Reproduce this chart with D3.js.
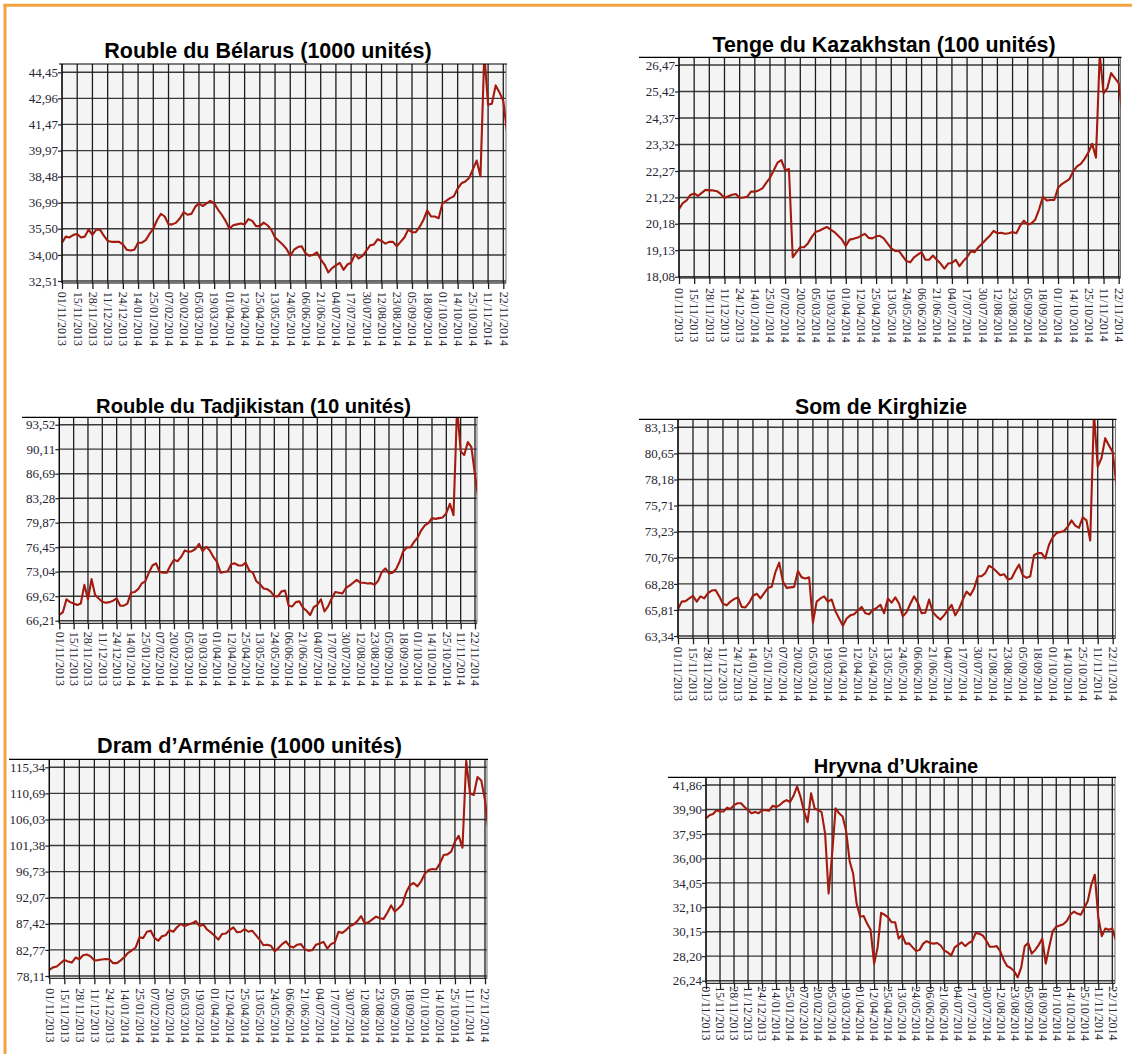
<!DOCTYPE html>
<html><head><meta charset="utf-8">
<script src="https://cdn.jsdelivr.net/npm/d3@7"></script>
<style>
body{margin:0;background:#fff}
svg{display:block}
</style>
</head><body>
<svg id="chart" width="1132" height="1054"></svg>
<script>
// ---------- DATA ----------
const dateLabels = ["01/11/2013","15/11/2013","28/11/2013","11/12/2013","24/12/2013","14/01/2014","25/01/2014","07/02/2014","20/02/2014","05/03/2014","19/03/2014","01/04/2014","12/04/2014","25/04/2014","13/05/2014","24/05/2014","06/06/2014","21/06/2014","04/07/2014","17/07/2014","30/07/2014","12/08/2014","23/08/2014","05/09/2014","18/09/2014","01/10/2014","14/10/2014","25/10/2014","11/11/2014","22/11/2014"];
const pointsPerLabel = 4;

const belarusTicks = ["32,51","34,00","35,50","36,99","38,48","39,97","41,47","42,96","44,45"];
const belarusValues = [34.7,35.05,35.0,35.15,35.2,35.0,35.05,35.45,35.15,35.45,
35.45,35.1,34.8,34.75,34.75,34.75,34.6,34.3,34.25,34.3,
34.7,34.7,34.85,35.2,35.5,36.0,36.35,36.2,35.75,35.75,
35.85,36.1,36.45,36.3,36.35,36.75,36.95,36.8,36.95,37.1,
36.95,36.6,36.3,35.95,35.5,35.7,35.75,35.8,35.75,36.05,
35.95,35.65,35.65,35.85,35.7,35.45,35.0,34.8,34.6,34.35,
33.95,34.3,34.45,34.5,34.1,33.95,34.0,34.15,33.75,33.45,
33.0,33.25,33.4,33.55,33.15,33.45,33.55,34.05,33.8,33.95,
34.25,34.55,34.6,34.9,34.8,34.65,34.75,34.75,34.5,34.75,
35.0,35.45,35.3,35.3,35.6,36.0,36.55,36.2,36.2,36.1,
36.95,37.1,37.25,37.35,37.8,38.1,38.2,38.4,38.9,39.4,
38.5,45.5,42.6,42.65,43.7,43.3,42.8,41.0];

const kazakhTicks = ["18,08","19,13","20,18","21,22","22,27","23,32","24,37","25,42","26,47"];
const kazakhValues = [20.76,21.0,21.1,21.32,21.38,21.28,21.4,21.52,21.5,21.5,
21.47,21.36,21.2,21.27,21.33,21.36,21.2,21.22,21.25,21.45,
21.45,21.5,21.58,21.8,22.0,22.3,22.6,22.7,22.3,22.35,
18.85,19.05,19.25,19.25,19.4,19.65,19.85,19.9,19.98,20.05,
19.95,19.85,19.7,19.55,19.3,19.55,19.58,19.62,19.7,19.78,
19.62,19.6,19.68,19.7,19.6,19.4,19.2,19.1,19.1,18.9,
18.7,18.65,18.85,18.95,19.05,18.75,18.75,18.92,18.75,18.6,
18.4,18.6,18.62,18.75,18.5,18.7,18.85,19.1,19.05,19.25,
19.4,19.55,19.7,19.9,19.8,19.82,19.78,19.8,19.85,19.8,
20.1,20.3,20.15,20.2,20.35,20.75,21.25,21.1,21.12,21.12,
21.6,21.75,21.85,21.95,22.25,22.45,22.55,22.75,23.0,23.35,
22.8,26.9,25.35,25.55,26.15,25.95,25.75,24.5];

const tadjikTicks = ["66,21","69,62","73,04","76,45","79,87","83,28","86,69","90,11","93,52"];
const tadjikValues = [67.0,67.4,69.2,68.8,68.6,68.4,68.6,71.2,69.2,72.0,
69.8,69.3,68.85,68.7,68.8,69.0,69.3,68.3,68.3,68.6,
70.1,70.2,70.6,71.4,71.7,72.9,73.9,74.2,73.0,72.9,
72.9,73.9,74.7,74.5,75.1,76.0,75.8,75.9,76.2,76.9,
75.9,76.5,76.0,75.1,74.4,72.9,73.0,73.1,74.1,74.2,
73.9,73.9,74.3,73.2,72.9,71.7,71.3,70.7,70.6,70.25,
69.6,69.6,70.3,70.4,68.3,68.2,68.8,68.9,68.0,67.6,
67.0,68.1,68.4,69.2,67.5,68.2,69.3,70.2,70.1,70.0,
70.8,71.1,71.5,71.9,71.5,71.5,71.4,71.45,71.2,71.8,
73.0,73.5,72.8,72.9,73.4,74.5,75.9,76.4,76.4,77.2,
77.8,78.8,79.5,79.8,80.5,80.4,80.5,80.6,81.2,82.5,
80.9,96.0,89.8,89.3,91.1,90.4,86.5,83.0];

const kirghizTicks = ["63,34","65,81","68,28","70,76","73,23","75,71","78,18","80,65","83,13"];
const kirghizValues = [65.9,66.6,66.65,66.9,67.15,66.6,67.1,66.9,67.4,67.65,
67.7,67.1,66.4,66.25,66.6,66.85,67.0,66.1,66.05,66.5,
67.15,67.35,66.9,67.4,67.9,68.0,69.4,70.3,68.5,67.9,
67.95,68.0,69.5,68.9,68.8,68.9,64.6,66.6,66.9,67.1,
66.6,66.8,65.7,65.0,64.3,65.0,65.3,65.4,65.75,66.1,
65.5,65.4,65.8,66.0,66.3,65.5,66.9,66.5,67.0,66.4,
65.2,65.6,66.4,67.1,66.5,65.5,65.55,66.8,65.6,65.2,
64.9,65.3,65.8,66.3,65.3,65.9,66.8,67.55,67.2,67.85,
69.0,69.0,69.3,70.0,69.8,69.45,69.1,69.2,68.7,68.8,
69.5,70.1,69.1,68.85,69.0,71.0,71.2,71.2,70.7,72.0,
72.7,73.1,73.2,73.3,73.7,74.3,73.8,73.6,74.6,74.3,
72.4,84.5,79.4,80.2,82.1,81.4,80.8,77.6];

const armeniaTicks = ["78,11","82,77","87,42","92,07","96,73","101,38","106,03","110,69","115,34"];
const armeniaValues = [79.2,79.65,79.8,80.4,80.95,80.7,80.5,81.4,81.1,81.8,
81.95,81.6,80.9,80.95,81.05,81.15,81.1,80.4,80.4,80.9,
81.5,82.25,82.7,83.2,85.0,84.9,86.0,86.2,84.9,84.4,
85.2,85.4,86.3,86.0,86.8,87.4,87.0,87.3,87.5,87.9,
87.0,87.3,86.4,85.9,85.3,84.6,85.6,85.7,86.3,86.8,
85.9,86.0,86.5,86.0,86.2,85.4,84.6,83.6,83.7,83.5,
82.5,83.1,83.8,84.3,83.4,83.2,83.7,83.8,82.9,82.6,
82.7,83.7,83.9,84.2,83.0,83.8,84.1,86.0,85.8,86.3,
87.0,87.3,87.9,88.8,87.5,87.7,88.2,88.7,88.4,88.3,
89.4,90.7,89.6,90.2,90.9,93.0,94.3,94.7,94.1,95.0,
96.4,97.0,97.2,97.1,98.2,99.7,99.8,100.3,102.1,103.1,
101.0,116.5,110.7,110.4,113.6,113.0,109.5,103.5];

const ukraineTicks = ["26,24","28,20","30,15","32,10","34,05","36,00","37,95","39,90","41,86"];
const ukraineValues = [39.2,39.45,39.55,39.85,39.75,39.75,40.05,39.95,40.25,40.4,
40.4,40.1,39.85,39.6,39.7,39.6,39.85,39.85,39.8,40.2,
40.1,40.25,40.5,40.65,40.5,41.0,41.75,40.9,39.75,38.9,
41.2,40.0,39.85,39.7,38.0,33.2,36.3,40.0,39.6,39.35,
38.2,35.8,34.8,32.4,31.35,31.4,30.8,30.3,27.6,28.9,
31.65,31.5,31.3,30.9,30.9,29.6,29.9,29.2,29.22,28.9,
28.6,28.7,29.2,29.4,29.25,29.2,29.25,29.05,28.65,28.5,
28.25,28.9,29.1,29.3,29.0,29.25,29.4,30.05,30.0,29.85,
29.45,28.95,28.95,29.0,28.6,27.9,27.4,27.25,27.0,26.5,
27.3,29.0,29.25,28.4,28.7,29.1,29.6,27.6,28.95,30.2,
30.55,30.65,30.75,31.0,31.5,31.75,31.6,31.5,32.05,32.6,
33.9,34.7,31.3,29.8,30.4,30.3,30.4,29.5];

// ---------- LAYOUT ----------
const panels = [
  {title:"Rouble du Bélarus (1000 unités)", ticks:belarusTicks, values:belarusValues,
   L:62, G:503.3, R:506, T:64, B:283, yTop:72.3, yBot:281, topX0:59, tx:268, ty:58, ts:21.5, lab:8.7},
  {title:"Tenge du Kazakhstan (100 unités)", ticks:kazakhTicks, values:kazakhValues,
   L:679, G:1118.7, R:1120.5, T:57.3, B:278, yTop:65, yBot:276.7, topX0:639, tx:884, ty:52, ts:21.4, lab:10},
  {title:"Rouble du Tadjikistan (10 unités)", ticks:tadjikTicks, values:tadjikValues,
   L:59.3, G:475, R:477, T:417.3, B:623.3, yTop:424.7, yBot:620.7, topX0:22, tx:253.5, ty:413, ts:20.2, lab:8.4},
  {title:"Som de Kirghizie", ticks:kirghizTicks, values:kirghizValues,
   L:678, G:1112.7, R:1115.5, T:419.3, B:638.3, yTop:427.3, yBot:636, topX0:639, tx:881, ty:414, ts:21.2, lab:8.4},
  {title:"Dram d\u2019Arménie (1000 unités)", ticks:armeniaTicks, values:armeniaValues,
   L:49.3, G:485, R:487, T:759.3, B:978.3, yTop:767.3, yBot:976, topX0:9, tx:249.5, ty:753, ts:21.6, lab:10},
  {title:"Hryvna d\u2019Ukraine", ticks:ukraineTicks, values:ukraineValues,
   L:706, G:1112.3, R:1115, T:777.3, B:983.3, yTop:785, yBot:980.7, topX0:668, tx:896, ty:772.7, ts:20, lab:3}
];

const svg = d3.select("#chart");

// orange frame
svg.append("line").attr("x1",3.5).attr("x2",1132).attr("y1",5.3).attr("y2",5.3)
  .attr("stroke","#f4a240").attr("stroke-width",3);
svg.append("line").attr("x1",5).attr("x2",5).attr("y1",4).attr("y2",1054)
  .attr("stroke","#f4a240").attr("stroke-width",3);

const num = s => +s.replace(",", ".");

panels.forEach((p, pi) => {
  const g = svg.append("g");
  const tickVals = p.ticks.map(num);
  const y = d3.scaleLinear().domain([tickVals[0], tickVals[tickVals.length-1]]).range([p.yBot, p.yTop]);
  const x = d3.scaleLinear().domain([0, dateLabels.length-1]).range([p.L, p.G]);

  // background
  g.append("rect").attr("x",p.L).attr("y",p.T).attr("width",p.R-p.L).attr("height",p.B-p.T)
    .attr("fill","#f4f4f4");

  // horizontal grid
  g.append("g").selectAll("line").data(tickVals).join("line")
    .attr("x1",p.L).attr("x2",p.R).attr("y1",d=>y(d)).attr("y2",d=>y(d))
    .attr("stroke","#3a3a3a").attr("stroke-width",1.4);

  // vertical grid
  g.append("g").selectAll("line").data(d3.range(dateLabels.length)).join("line")
    .attr("x1",d=>x(d)).attr("x2",d=>x(d)).attr("y1",p.T).attr("y2",p.B)
    .attr("stroke","#1e1e1e").attr("stroke-width",1.3);

  // right border
  g.append("line").attr("x1",p.R).attr("x2",p.R).attr("y1",p.T).attr("y2",p.B)
    .attr("stroke","#777").attr("stroke-width",1);

  // line
  const cid = "clip"+pi;
  svg.append("defs").append("clipPath").attr("id",cid).append("rect")
    .attr("x",p.L).attr("y",p.T).attr("width",p.R-p.L).attr("height",p.B-p.T);
  const line = d3.line().x((d,i)=>x(i/pointsPerLabel)).y(d=>y(d));
  g.append("path").datum(p.values).attr("d",line).attr("clip-path","url(#"+cid+")")
    .attr("fill","none").attr("stroke","#a31a0e").attr("stroke-width",2.1)
    .attr("stroke-linejoin","round");

  // top border
  g.append("line").attr("x1",p.topX0).attr("x2",p.R+1).attr("y1",p.T).attr("y2",p.T)
    .attr("stroke","#000").attr("stroke-width",1.2);

  // y axis
  const ya = d3.axisLeft(y).tickValues(tickVals).tickFormat((d,i)=>p.ticks[i])
    .tickSizeInner(4).tickSizeOuter(0).tickPadding(0);
  const yg = g.append("g").attr("transform",`translate(${p.L},0)`).call(ya);
  yg.select(".domain").attr("stroke","#000").attr("d",`M0,${p.T}V${p.B}`);
  yg.selectAll(".tick line").attr("stroke","#222").attr("stroke-width",1.2);
  yg.selectAll("text").attr("font-family","'Liberation Serif','Times New Roman',serif")
    .attr("font-size",13).attr("fill","#262633");

  // x axis
  const xa = d3.axisBottom(x).tickValues(d3.range(dateLabels.length)).tickFormat(i=>dateLabels[i])
    .tickSizeInner(6).tickSizeOuter(0);
  const xg = g.append("g").attr("transform",`translate(0,${p.B})`).call(xa);
  xg.select(".domain").attr("stroke","#000").attr("d",`M${p.L},0H${p.R}`);
  xg.selectAll(".tick line").attr("stroke","#1e1e1e").attr("stroke-width",1.3);
  xg.selectAll("text").attr("font-family","'Liberation Serif','Times New Roman',serif")
    .attr("font-size",12).attr("fill","#262633")
    .attr("transform","rotate(90)").attr("x",p.lab).attr("y",0).attr("dy","0.35em")
    .attr("text-anchor","start");

  // title
  g.append("text").attr("x",p.tx).attr("y",p.ty).attr("text-anchor","middle")
    .attr("font-family","'Liberation Sans',Arial,sans-serif").attr("font-weight","bold")
    .attr("font-size",p.ts).attr("fill","#000").text(p.title);
});
</script>
</body></html>
